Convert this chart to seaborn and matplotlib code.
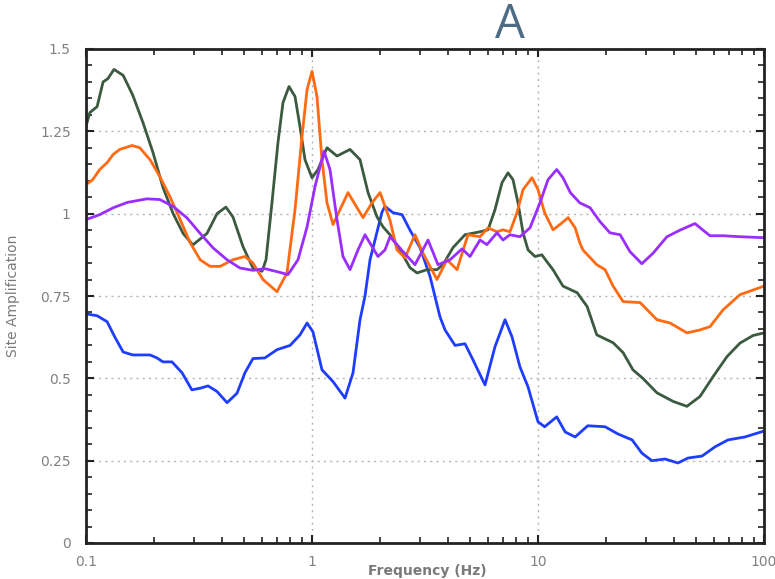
import numpy as np
import pandas as pd
import matplotlib
matplotlib.use("Agg")
import matplotlib.pyplot as plt
from matplotlib.ticker import LogLocator, MultipleLocator, FixedLocator, FixedFormatter, NullFormatter
import seaborn as sns

# Site amplification spectra (frequency in Hz, amplification factor)
green_freq = [0.100, 0.104, 0.112, 0.119, 0.125, 0.133, 0.146, 0.161, 0.179, 0.198,
              0.219, 0.243, 0.269, 0.297, 0.343, 0.380, 0.416, 0.447, 0.495, 0.548,
              0.601, 0.626, 0.665, 0.707, 0.744, 0.791, 0.841, 0.885, 0.931, 1.000,
              1.063, 1.165, 1.290, 1.473, 1.631, 1.770, 1.940, 2.062, 2.214, 2.452,
              2.714, 2.915, 3.227, 3.573, 3.798, 4.207, 4.753, 5.538, 6.009, 6.452,
              6.929, 7.367, 7.753, 8.155, 8.585, 9.033, 9.70, 10.4, 11.07, 11.65,
              12.9, 14.9, 16.5, 18.2, 21.5, 23.8, 26.3, 29.1, 33.6, 39.6,
              45.6, 52.1, 59.5, 68.6, 78.3, 89.4, 100.0]
green_amp = [1.265, 1.307, 1.325, 1.400, 1.410, 1.438, 1.420, 1.360, 1.275, 1.185,
             1.080, 1.000, 0.940, 0.905, 0.940, 1.000, 1.020, 0.990, 0.900, 0.835,
             0.825, 0.860, 1.033, 1.216, 1.337, 1.386, 1.356, 1.264, 1.164, 1.109,
             1.134, 1.200, 1.175, 1.195, 1.164, 1.064, 0.990, 0.960, 0.936, 0.890,
             0.836, 0.820, 0.830, 0.830, 0.845, 0.897, 0.936, 0.945, 0.951, 1.012,
             1.094, 1.124, 1.103, 1.033, 0.942, 0.890, 0.870, 0.875, 0.850, 0.830,
             0.780, 0.760, 0.718, 0.632, 0.608, 0.578, 0.526, 0.500, 0.456, 0.430,
             0.415, 0.445, 0.505, 0.566, 0.607, 0.630, 0.638]

orange_freq = [0.100, 0.107, 0.115, 0.124, 0.132, 0.141, 0.160, 0.173, 0.192, 0.212,
               0.235, 0.261, 0.289, 0.320, 0.354, 0.392, 0.447, 0.505, 0.548, 0.607,
               0.700, 0.775, 0.841, 0.903, 0.951, 1.000, 1.052, 1.107, 1.165, 1.239,
               1.330, 1.443, 1.582, 1.682, 1.843, 2.000, 2.214, 2.377, 2.579, 2.856,
               3.097, 3.573, 3.956, 4.382, 4.898, 5.538, 6.009, 6.585, 7.000, 7.516,
               8.072, 8.585, 9.408, 10.0, 10.7, 11.65, 12.5, 13.6, 14.6, 15.3,
               15.8, 18.2, 19.8, 21.5, 23.8, 28.3, 33.6, 38.4, 45.6, 52.1,
               57.7, 65.9, 78.3, 100.0]
orange_amp = [1.088, 1.103, 1.134, 1.155, 1.180, 1.195, 1.207, 1.200, 1.164, 1.113,
              1.052, 0.982, 0.912, 0.860, 0.840, 0.840, 0.860, 0.870, 0.850, 0.800,
              0.763, 0.820, 1.012, 1.234, 1.377, 1.432, 1.356, 1.164, 1.033, 0.967,
              1.012, 1.064, 1.018, 0.988, 1.033, 1.064, 0.980, 0.890, 0.866, 0.936,
              0.880, 0.800, 0.860, 0.830, 0.936, 0.930, 0.957, 0.945, 0.951, 0.945,
              1.003, 1.073, 1.109, 1.073, 1.003, 0.951, 0.967, 0.988, 0.957, 0.912,
              0.890, 0.845, 0.830, 0.780, 0.733, 0.730, 0.678, 0.668, 0.638, 0.647,
              0.657, 0.708, 0.754, 0.780]

purple_freq = [0.100, 0.115, 0.132, 0.152, 0.186, 0.212, 0.243, 0.280, 0.320, 0.365,
               0.421, 0.480, 0.548, 0.619, 0.700, 0.783, 0.867, 0.951, 1.031, 1.130,
               1.201, 1.290, 1.371, 1.473, 1.598, 1.716, 1.843, 1.959, 2.104, 2.214,
               2.528, 2.856, 3.261, 3.610, 4.080, 4.610, 5.000, 5.538, 5.943, 6.585,
               7.000, 7.516, 8.318, 9.218, 10.2, 11.07, 12.1, 12.9, 13.9, 15.3,
               17.0, 18.8, 20.8, 23.1, 25.5, 28.8, 32.3, 37.2, 42.5, 49.5,
               53.7, 57.7, 65.9, 78.3, 100.0]
purple_amp = [0.982, 0.997, 1.018, 1.034, 1.045, 1.043, 1.022, 0.987, 0.940, 0.896,
              0.860, 0.835, 0.828, 0.833, 0.824, 0.815, 0.860, 0.960, 1.082, 1.190,
              1.134, 0.982, 0.870, 0.830, 0.890, 0.936, 0.900, 0.870, 0.890, 0.930,
              0.885, 0.845, 0.920, 0.845, 0.860, 0.893, 0.870, 0.920, 0.906, 0.942,
              0.920, 0.936, 0.930, 0.957, 1.033, 1.103, 1.134, 1.109, 1.064, 1.033,
              1.018, 0.976, 0.942, 0.936, 0.885, 0.848, 0.880, 0.930, 0.950, 0.970,
              0.950, 0.933, 0.933, 0.930, 0.927]

blue_freq = [0.100, 0.112, 0.124, 0.134, 0.146, 0.161, 0.192, 0.206, 0.219, 0.240,
             0.266, 0.294, 0.320, 0.347, 0.380, 0.421, 0.466, 0.505, 0.548, 0.619,
             0.700, 0.800, 0.885, 0.951, 1.010, 1.107, 1.239, 1.400, 1.519, 1.631,
             1.716, 1.806, 1.900, 2.041, 2.104, 2.283, 2.503, 2.714, 3.006, 3.327,
             3.683, 3.877, 4.294, 4.753, 5.157, 5.828, 6.452, 7.145, 7.674, 8.318,
             9.033, 10.0, 10.7, 12.1, 13.2, 14.6, 16.6, 19.8, 22.6, 26.1,
             28.8, 31.9, 36.5, 41.6, 46.1, 53.2, 60.7, 69.3, 82.4, 100.0]
blue_amp = [0.696, 0.690, 0.672, 0.626, 0.580, 0.571, 0.571, 0.562, 0.550, 0.550,
            0.517, 0.465, 0.470, 0.477, 0.460, 0.426, 0.455, 0.517, 0.560, 0.562,
            0.587, 0.600, 0.632, 0.668, 0.641, 0.526, 0.490, 0.440, 0.517, 0.678,
            0.750, 0.860, 0.920, 1.005, 1.022, 1.003, 0.997, 0.950, 0.897, 0.810,
            0.687, 0.647, 0.600, 0.605, 0.556, 0.480, 0.596, 0.678, 0.626, 0.535,
            0.474, 0.368, 0.353, 0.383, 0.337, 0.322, 0.356, 0.353, 0.331, 0.313,
            0.273, 0.250, 0.255, 0.243, 0.258, 0.264, 0.292, 0.313, 0.322, 0.340]

series = {
    "blue": (blue_freq, blue_amp),
    "green": (green_freq, green_amp),
    "orange": (orange_freq, orange_amp),
    "purple": (purple_freq, purple_amp),
}
colors = {"blue": "#1f3dff", "green": "#3b5a40", "orange": "#ff6a12", "purple": "#9a2eff"}

frames = []
for name, (f, a) in series.items():
    frames.append(pd.DataFrame({"freq": f, "amp": a, "site": name}))
df = pd.concat(frames, ignore_index=True)

sns.set_style("white")
plt.rcParams["font.family"] = ["DejaVu Sans"]
plt.rcParams["lines.solid_joinstyle"] = "round"
plt.rcParams["lines.solid_capstyle"] = "round"

fig = plt.figure(figsize=(7.75, 5.79), dpi=100)
ax = fig.add_axes([86 / 775, 36 / 579, 678 / 775, 494 / 579])

sns.lineplot(data=df, x="freq", y="amp", hue="site", palette=colors,
             estimator=None, sort=False, units="site", linewidth=2.0,
             legend=False, ax=ax)

ax.set_xscale("log")
ax.set_xlim(0.1, 100)
ax.set_ylim(0, 1.5)

# ticks
ax.xaxis.set_major_locator(FixedLocator([0.1, 1, 10, 100]))
ax.xaxis.set_major_formatter(FixedFormatter(["0.1", "1", "10", "100"]))
ax.xaxis.set_minor_locator(LogLocator(base=10, subs=np.arange(2, 10), numticks=20))
ax.xaxis.set_minor_formatter(NullFormatter())
ax.yaxis.set_major_locator(FixedLocator([0, 0.25, 0.5, 0.75, 1.0, 1.25, 1.5]))
ax.yaxis.set_major_formatter(FixedFormatter(["0", "0.25", "0.5", "0.75", "1", "1.25", "1.5"]))
ax.yaxis.set_minor_locator(MultipleLocator(0.05))

ax.tick_params(which="both", direction="in", top=True, right=True,
               bottom=True, left=True, color="#222222")
ax.tick_params(which="major", length=6, width=1.5)
ax.tick_params(which="minor", length=4, width=1.2)
ax.tick_params(axis="y", which="major", pad=11, labelsize=10, labelcolor="#808080")
ax.tick_params(axis="x", which="major", pad=9, labelsize=10, labelcolor="#808080")

for sp in ax.spines.values():
    sp.set_visible(True)
    sp.set_color("#222222")
    sp.set_linewidth(2.0)

ax.grid(True, which="major", linestyle=(0, (1.5, 3)), color="#b5b5b5", linewidth=1.0)
ax.set_axisbelow(True)

ax.set_xlabel("Frequency (Hz)", fontsize=10, fontweight="bold", color="#7a7a7a")
ax.xaxis.set_label_coords(0.504, -0.043)
ax.set_ylabel("Site Amplification", fontsize=10, color="#7a7a7a")
ax.yaxis.set_label_coords(-0.097, 0.5)

fig.text(0.658, 0.957, "A", fontsize=34, color="#4d6b84", ha="center", va="center",
         family=["Open Sans", "DejaVu Sans"])

fig.savefig("out.png", dpi=100)
